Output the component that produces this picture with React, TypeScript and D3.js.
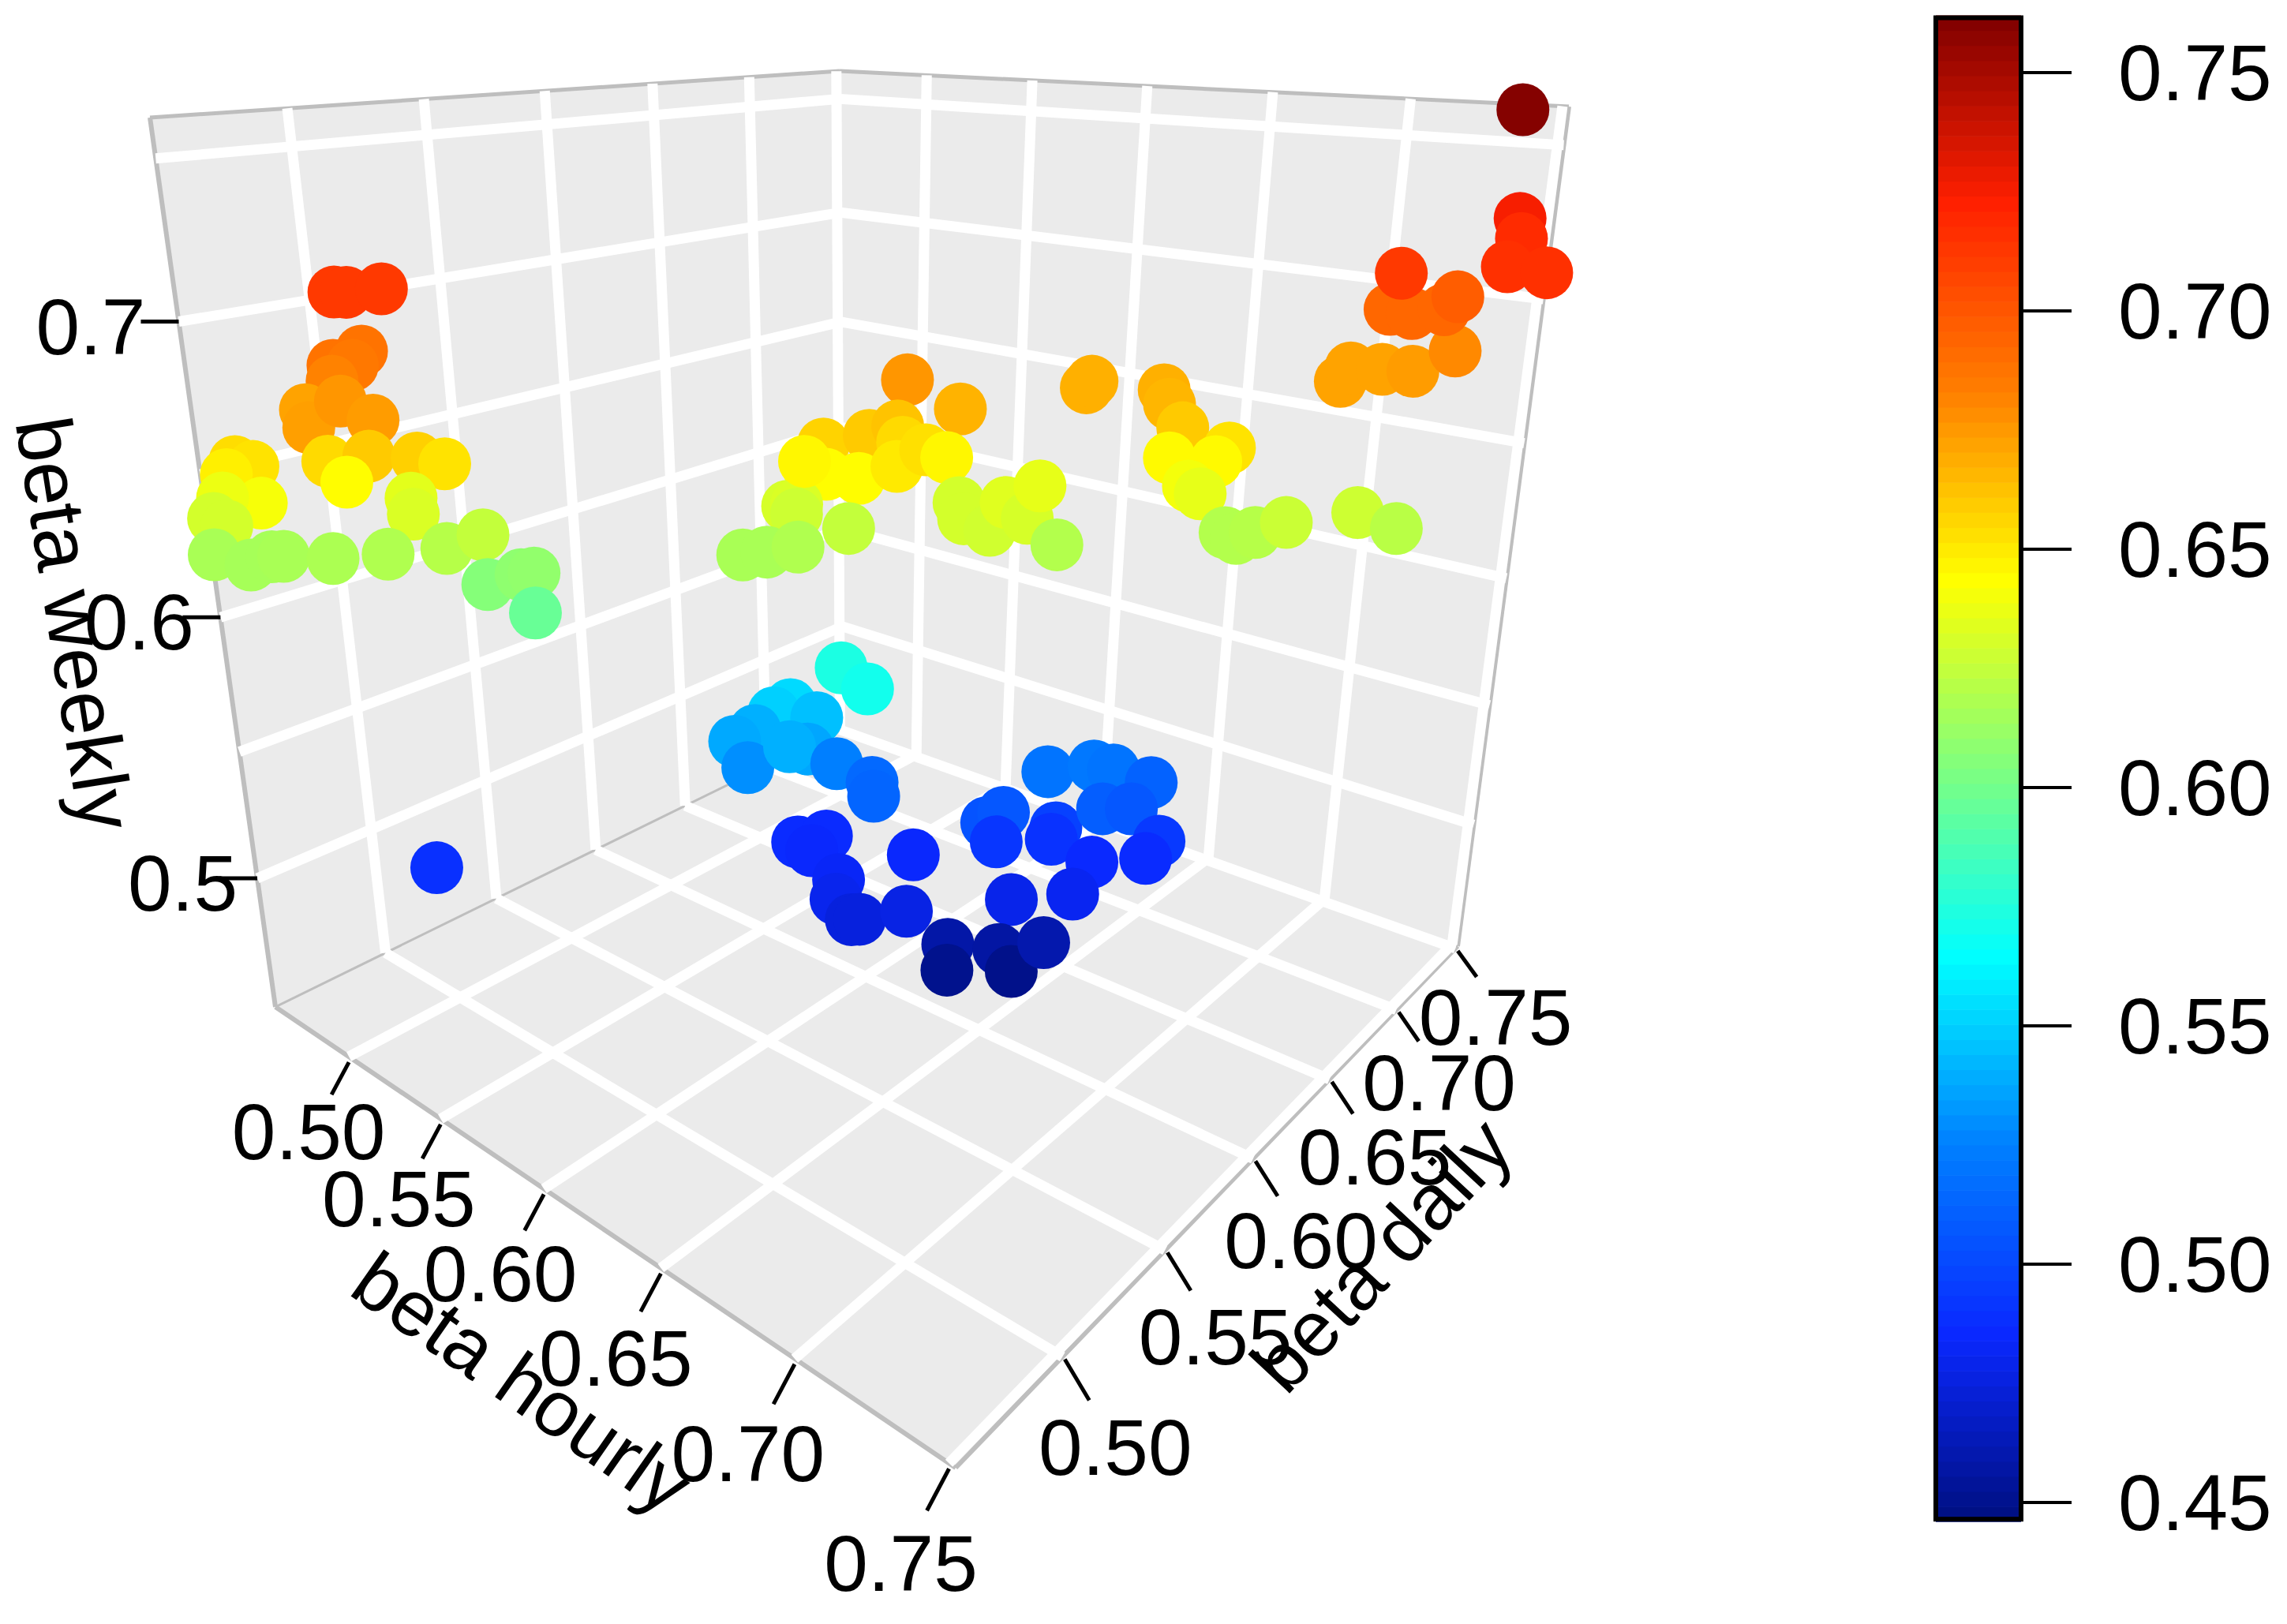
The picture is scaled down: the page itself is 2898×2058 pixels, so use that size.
import React from "react";
import * as d3 from "d3";

const W = 2898, H = 2058;
const hourlyTicks = [0.5, 0.55, 0.6, 0.65, 0.7, 0.75];
const dailyTicks = [0.5, 0.55, 0.6, 0.65, 0.7, 0.75];
const weeklyGrid = [0.5, 0.55, 0.6, 0.65, 0.7, 0.75];
const weeklyTicks = [0.5, 0.6, 0.7];
const colorTicks = [0.45, 0.5, 0.55, 0.6, 0.65, 0.7, 0.75];
const jetStops = ["#000F80", "#0A28FF", "#007FFF", "#00FFFF", "#7FFF7F", "#FFFF00", "#FF7F00", "#FF2000", "#7F0000"];

const betaHourly = [.503,.506,.509,.486,.496,.493,.492,.483,.505,
.495,.515,.487,.506,.480,.513,.508,.463,.466,
.456,.471,.449,.444,.454,.486,.493,.443,.458,
.456,.461,.477,.489,.503,.510,.508,.515,.519,
.522,.606,.621,.593,.604,.582,.588,.599,.575,
.578,.577,.571,.575,.583,.594,.577,.608,.606,
.612,.613,.609,.613,.625,.637,.632,.642,.633,
.647,.637,.633,.658,.666,.674,.684,.663,.677,
.677,.678,.682,.688,.691,.702,.716,.726,.704,
.697,.706,.719,.727,.706,.715,.720,.722,.725,
.739,.739,.755,.769,.736,.592,.606,.571,.567,
.574,.558,.556,.563,.578,.576,.578,.585,.590,
.562,.567,.568,.587,.592,.600,.602,.613,.598,
.624,.626,.622,.637,.634,.651,.654,.638,.633,
.645,.650,.658,.654,.659,.667,.665,.620,.623,
.635,.640,.647,.480];
const betaDaily = [.476,.478,.488,.496,.478,.487,.480,.476,.461,
.480,.476,.479,.480,.490,.492,.506,.463,.467,
.464,.465,.466,.465,.463,.509,.504,.464,.467,
.476,.477,.484,.496,.508,.517,.519,.527,.529,
.526,.610,.618,.585,.594,.590,.592,.595,.588,
.589,.590,.571,.578,.584,.596,.594,.603,.608,
.598,.611,.627,.629,.616,.614,.629,.627,.646,
.637,.664,.673,.678,.669,.665,.678,.676,.682,
.666,.672,.683,.680,.687,.687,.709,.718,.711,
.731,.736,.732,.745,.737,.735,.748,.753,.704,
.756,.759,.714,.711,.756,.595,.592,.593,.589,
.603,.589,.581,.580,.594,.587,.609,.620,.615,
.606,.616,.607,.600,.593,.592,.594,.606,.628,
.636,.643,.645,.660,.662,.663,.647,.633,.659,
.670,.675,.688,.663,.674,.681,.676,.621,.617,
.631,.632,.641,.509];
const betaWeekly = [.712,.712,.712,.688,.688,.686,.682,.672,.673,.676,.674,.655,.66,.644,.658,.652,.654,.652,.648,.641,.638,.63,.63,.635,.632,.617,.616,.616,.617,.618,.619,.621,.625,.606,.609,.61,.597,
.676,.667,.657,.66,.646,.644,.644,.631,.632,.628,.617,.617,.619,.625,.646,.662,.655,.65,.653,.646,.63,.63,.629,.634,.631,.636,.62,.668,.668,.668,.666,.66,.652,.645,.645,.64,.636,.62,.62,.621,.627,.628,.622,.672,.672,.672,.674,.68,.693,.693,.693,.697,.712,.725,.718,.716,.716,.76,
.573,.57,.553,.55,.545,.54,.538,.53,.537,.54,.525,.515,.513,.487,.487,.485,.483,.48,.475,.475,.477,.485,.505,.507,.492,.497,.49,.486,.481,.479,.52,.522,.52,.512,.51,.507,.493,.487,.458,.45,.457,.449,.46,.489];

const DOM: [number, number] = [0.4555, 0.752];
const ZDOM: [number, number] = [0.446, 0.762];
const KZ = [0.82, 0.83, 0.82, 0.89];
type P = [number, number];
const floorC: P[] = [[349, 1276], [1211, 1860], [1847, 1199], [1068, 923]];
const topC: P[] = [[190, 149], [1249, 250], [1988, 135], [1064, 90]];

const uS = d3.scaleLinear().domain(DOM).range([0, 1]);
const vS = d3.scaleLinear().domain(DOM).range([0, 1]);
const wS = d3.scaleLinear().domain(ZDOM).range([0, 1]);
const sOf = (z: number, k: number) => { const w = wS(z); return (k * w) / (k * w + 1 - w); };
function homog(q: P[]) {
  const [[x0, y0], [x1, y1], [x2, y2], [x3, y3]] = q;
  const dx1 = x1 - x2, dx2 = x3 - x2, sxx = x0 - x1 + x2 - x3;
  const dy1 = y1 - y2, dy2 = y3 - y2, syy = y0 - y1 + y2 - y3;
  const den = dx1 * dy2 - dx2 * dy1;
  const g = (sxx * dy2 - dx2 * syy) / den, h = (dx1 * syy - sxx * dy1) / den;
  return { a: x1 - x0 + g * x1, b: x3 - x0 + h * x3, c: x0, d: y1 - y0 + g * y1, e: y3 - y0 + h * y3, f: y0, g, h };
}
const planeAt = (z: number) => homog(floorC.map((p, i) => { const s = sOf(z, KZ[i]); return [p[0] + (topC[i][0] - p[0]) * s, p[1] + (topC[i][1] - p[1]) * s] as P; }));
function proj(hr: number, dy: number, z: number): P {
  const m = planeAt(z), u = uS(hr), v = vS(dy), q = m.g * u + m.h * v + 1;
  return [(m.a * u + m.b * v + m.c) / q, (m.d * u + m.e * v + m.f) / q];
}
const lo = DOM[0], hi = DOM[1], z0 = ZDOM[0], z1 = ZDOM[1];
const pts = (a: P[]) => a.map((p) => p.join(",")).join(" ");
const jet = d3.scaleLinear<string>().domain(jetStops.map((_, i) => ZDOM[0] + ((ZDOM[1] - ZDOM[0]) * i) / 8)).range(jetStops).interpolate(d3.interpolateRgb);
const barY = d3.scaleLinear().domain([0.45, 0.75]).range([1904, 92]);
const FONT = "'Liberation Sans', Arial, sans-serif";
const FS = 100;
const GREY = "#EBEBEB", EDGE = "#BEBEBE";
const GW = 13;

function Seg({ a, b, c, w }: { a: P; b: P; c: string; w: number }) {
  return <line x1={a[0]} y1={a[1]} x2={b[0]} y2={b[1]} stroke={c} strokeWidth={w} />;
}

export default function App() {
  const bands = d3.range(100);
  const tt = d3.scaleLinear().domain([0.5, 0.75]).range([0, 1]);
  return (
    <svg width={W} height={H} viewBox={`0 0 ${W} ${H}`} style={{ position: "absolute", left: 0, top: 0 }} fontFamily={FONT} fontSize={FS}>
      <rect width={W} height={H} fill="#fff" />
      <polygon points={pts([proj(lo, lo, z0), proj(lo, hi, z0), proj(lo, hi, z1), proj(lo, lo, z1)])} fill={GREY} />
      <polygon points={pts([proj(lo, hi, z0), proj(hi, hi, z0), proj(hi, hi, z1), proj(lo, hi, z1)])} fill={GREY} />
      <polygon points={pts([proj(lo, lo, z0), proj(hi, lo, z0), proj(hi, hi, z0), proj(lo, hi, z0)])} fill={GREY} />
      <Seg a={proj(lo, lo, z0)} b={proj(lo, lo, z1)} c={EDGE} w={6} />
      <Seg a={proj(hi, hi, z0)} b={proj(hi, hi, z1)} c={EDGE} w={6} />
      <Seg a={proj(lo, lo, z1)} b={proj(lo, hi, z1)} c={EDGE} w={5} />
      <Seg a={proj(lo, hi, z1)} b={proj(hi, hi, z1)} c={EDGE} w={5} />
      <Seg a={proj(lo, hi, z0)} b={proj(lo, hi, z1)} c={EDGE} w={2} />
      <Seg a={proj(lo, lo, z0)} b={proj(lo, hi, z0)} c={EDGE} w={3} />
      <Seg a={proj(lo, hi, z0)} b={proj(hi, hi, z0)} c={EDGE} w={3} />
      <Seg a={proj(lo, lo, z0)} b={proj(hi, lo, z0)} c={EDGE} w={6} />
      <Seg a={proj(hi, lo, z0)} b={proj(hi, hi, z0)} c={EDGE} w={6} />
      {hourlyTicks.map((t) => <g key={`h${t}`}><Seg a={proj(t, lo, z0)} b={proj(t, hi, z0)} c="#fff" w={GW} /><Seg a={proj(t, hi, z0)} b={proj(t, hi, z1)} c="#fff" w={GW} /></g>)}
      {dailyTicks.map((t) => <g key={`d${t}`}><Seg a={proj(lo, t, z0)} b={proj(hi, t, z0)} c="#fff" w={GW} /><Seg a={proj(lo, t, z0)} b={proj(lo, t, z1)} c="#fff" w={GW} /></g>)}
      {weeklyGrid.map((t) => <g key={`w${t}`}><Seg a={proj(lo, lo, t)} b={proj(lo, hi, t)} c="#fff" w={GW} /><Seg a={proj(lo, hi, t)} b={proj(hi, hi, t)} c="#fff" w={GW} /></g>)}
      {hourlyTicks.map((t) => { const p = proj(t, lo, z0), k = tt(t); return <g key={`ht${t}`}>
        <line x1={p[0]} y1={p[1] + 7} x2={p[0] - 22 - 6 * k} y2={p[1] + 48 + 12 * k} stroke="#000" strokeWidth={5} />
        <text x={p[0] - 51 - 10 * k} y={p[1] + 95 + 32 * k} textAnchor="middle" dominantBaseline="central">{t.toFixed(2)}</text></g>; })}
      {dailyTicks.map((t) => { const p = proj(hi, t, z0), k = tt(t); return <g key={`dt${t}`}>
        <line x1={p[0] + 3} y1={p[1] + 3} x2={p[0] + 34 - 7 * k} y2={p[1] + 55 - 19 * k} stroke="#000" strokeWidth={5} />
        <text x={p[0] + 67 - 16 * k} y={p[1] + 115 - 28 * k} textAnchor="middle" dominantBaseline="central">{t.toFixed(2)}</text></g>; })}
      {weeklyTicks.map((t) => { const p = proj(lo, lo, t); return <g key={`wt${t}`}>
        <line x1={p[0] - 48} y1={p[1]} x2={p[0]} y2={p[1]} stroke="#000" strokeWidth={5} />
        <text x={p[0] - 25 - (t - 0.5) * 85} y={p[1] + 6} textAnchor="end" dominantBaseline="central">{t.toFixed(1)}</text></g>; })}
      <text transform="translate(662,1752) rotate(35)" textAnchor="middle" dominantBaseline="central">beta hourly</text>
      <text transform="translate(1750,1590) rotate(-47)" textAnchor="middle" dominantBaseline="central">beta daily</text>
      <text transform="translate(95,790) rotate(81)" textAnchor="middle" dominantBaseline="central">beta weekly</text>
      {betaHourly.map((h, i) => { const p = proj(h, betaDaily[i], betaWeekly[i]); return <circle key={i} cx={p[0]} cy={p[1]} r={33.5} fill={jet(betaWeekly[i])} />; })}
      {bands.map((i) => { const a = z0 + ((z1 - z0) * i) / 100, b = z0 + ((z1 - z0) * (i + 1)) / 100; return <rect key={i} x={2453} width={108} y={barY(b)} height={barY(a) - barY(b) + 0.6} fill={jet((a + b) / 2)} />; })}
      <rect x={2453} y={barY(z1) + 3} width={108} height={barY(z0) - barY(z1) - 6} fill="none" stroke="#000" strokeWidth={6} />
      {colorTicks.map((t) => <g key={`c${t}`}><line x1={2564} x2={2625} y1={barY(t)} y2={barY(t)} stroke="#000" strokeWidth={4} /><text x={2684} y={barY(t)} dominantBaseline="central">{t.toFixed(2)}</text></g>)}
    </svg>
  );
}
